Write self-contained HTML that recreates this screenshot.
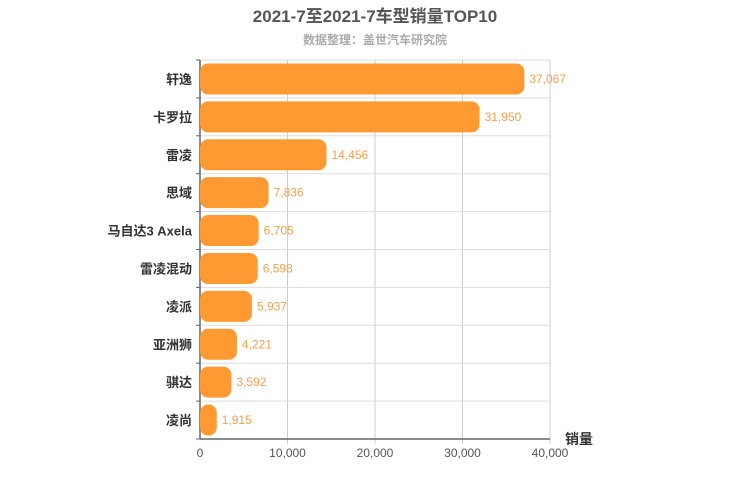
<!DOCTYPE html>
<html><head><meta charset="utf-8"><style>
body{margin:0;background:#fff;}
svg{display:block;font-family:"Liberation Sans","Noto Sans CJK SC",sans-serif;}
</style></head><body>
<svg width="750" height="500" id="c">
<text x="375" y="22" text-anchor="middle" font-size="17" font-weight="bold" fill="#555">2021-7至2021-7车型销量TOP10</text>
<text x="375" y="44" text-anchor="middle" font-size="12" font-weight="bold" fill="#aaa">数据整理：盖世汽车研究院</text>
<text x="565" y="444" font-size="14" font-weight="bold" fill="#333">销量</text>
</svg>
<script>
const categories=["轩逸","卡罗拉","雷凌","思域","马自达3 Axela","雷凌混动","凌派","亚洲狮","骐达","凌尚"];
const values=[37067,31950,14456,7836,6705,6598,5937,4221,3592,1915];
const ticks=[0,10000,20000,30000,40000];
const tickLabels=["0","10,000","20,000","30,000","40,000"];
const svg=document.getElementById('c');const NS="http://www.w3.org/2000/svg";
const X0=200,X1=550,Y0=60,Y1=439,max=40000;
const x=v=>X0+v/max*(X1-X0);
const band=(Y1-Y0)/categories.length;
function mk(t,a,txt){const e=document.createElementNS(NS,t);for(const k in a)e.setAttribute(k,a[k]);if(txt!=null)e.textContent=txt;svg.appendChild(e);return e;}
ticks.forEach((t,i)=>{
 const g=mk('line',{x1:x(t),x2:x(t),y1:Y0,y2:Y1+(i?5:0),stroke:'#ccc'});
 
 
 const l=mk('text',{x:x(t),y:Y1+18,'text-anchor':'middle','font-size':12,fill:'#555'},tickLabels[i]);
 
 
});
for(let i=0;i<=categories.length;i++){
 const y=Y0+i*band;
 const g=mk('line',{x1:X0-4,x2:X1,y1:y,y2:y,stroke:'#ddd'});
 
 
 const t=mk('line',{x1:X0-4,x2:X0,y1:y,y2:y,stroke:'#666'});
 
 
}
const ax=mk('line',{x1:X0,x2:X1,y1:Y1,y2:Y1,stroke:'#666','stroke-width':1.5});


const ay=mk('line',{x1:X0,x2:X0,y1:Y0,y2:Y1,stroke:'#666','stroke-width':1.5});


categories.forEach((c,i)=>{
 const cy=Y0+band*(i+0.5);
 const w=x(values[i])-X0;
 const b=mk('rect',{x:X0,y:cy-15.5,width:w,height:31,rx:Math.min(8,w/2),fill:'#ff9a33'});
 
 
 const l=mk('text',{x:X0-8,y:cy+5,'text-anchor':'end','font-size':13,'font-weight':'bold',fill:'#333'},c);
 
 
 const v=mk('text',{x:X0+w+5,y:cy+4,'font-size':12,fill:'#f0a050'},values[i].toLocaleString('en-US'));
 
 
});
</script>
</body></html>
